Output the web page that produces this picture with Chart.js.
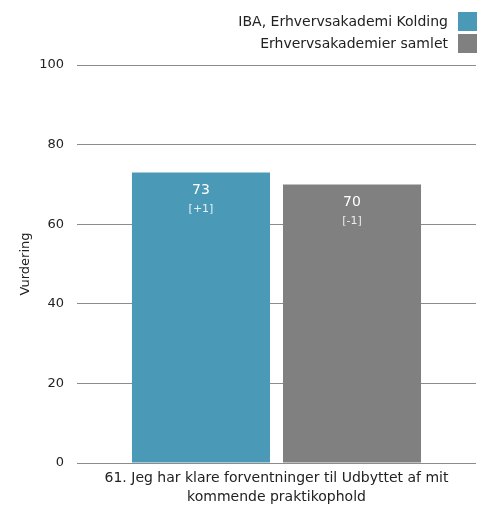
<!DOCTYPE html>
<html>
<head>
    <title>Vurdering</title>
    <script src="https://cdn.jsdelivr.net/npm/chart.js"></script>
    <style>
        body { margin: 0; background: #fff; }
    </style>
</head>
<body>
    <canvas id="barChart" width="491" height="506"></canvas>

    <script>
        const categories = [['61. Jeg har klare forventninger til Udbyttet af mit', 'kommende praktikophold']];
        const seriesNames = ['IBA, Erhvervsakademi Kolding', 'Erhvervsakademier samlet'];
        const seriesColors = ['#4a9ab7', '#808080'];
        const ibaValues = [73];
        const allValues = [70];
        const ibaChange = ['[+1]'];
        const allChange = ['[-1]'];
        const yTicks = [0, 20, 40, 60, 80, 100];

        const fontFamily = '"DejaVu Sans", Verdana, sans-serif';

        // legend with the colour box on the right, drawn top-right
        const rightLegend = {
            id: 'rightLegend',
            afterDraw(chart) {
                const ctx = chart.ctx;
                ctx.save();
                ctx.font = '14px ' + fontFamily;
                ctx.textAlign = 'right';
                ctx.textBaseline = 'middle';
                chart.data.datasets.forEach((ds, i) => {
                    const y = 12 + i * 22;
                    ctx.fillStyle = ds.backgroundColor;
                    ctx.fillRect(458, y, 19, 19);
                    ctx.fillStyle = '#222';
                    ctx.fillText(ds.label, 448, y + 10);
                });
                ctx.restore();
            }
        };

        // value + change label inside the top of each bar
        const barLabels = {
            id: 'barLabels',
            afterDatasetsDraw(chart) {
                const ctx = chart.ctx;
                ctx.save();
                ctx.textAlign = 'center';
                ctx.textBaseline = 'middle';
                chart.data.datasets.forEach((ds, i) => {
                    chart.getDatasetMeta(i).data.forEach((bar, j) => {
                        ctx.fillStyle = '#fff';
                        ctx.font = '14px ' + fontFamily;
                        ctx.fillText(ds.data[j], bar.x, bar.y + 18);
                        ctx.fillStyle = 'rgba(255,255,255,0.85)';
                        ctx.font = '11px ' + fontFamily;
                        ctx.fillText(ds.change[j], bar.x, bar.y + 37);
                    });
                });
                ctx.restore();
            }
        };

        new Chart(document.getElementById('barChart'), {
            type: 'bar',
            data: {
                labels: categories,
                datasets: [
                    {
                        label: seriesNames[0],
                        data: ibaValues,
                        change: ibaChange,
                        backgroundColor: seriesColors[0]
                    },
                    {
                        label: seriesNames[1],
                        data: allValues,
                        change: allChange,
                        backgroundColor: seriesColors[1]
                    }
                ]
            },
            options: {
                responsive: false,
                animation: false,
                layout: { padding: { top: 65, right: 15, left: 0, bottom: 0 } },
                categoryPercentage: 0.757,
                barPercentage: 0.914,
                plugins: {
                    legend: { display: false },
                    tooltip: { enabled: false }
                },
                scales: {
                    x: {
                        grid: { display: false, drawTicks: false },
                        border: { display: false },
                        ticks: {
                            color: '#222',
                            font: { family: fontFamily, size: 14, lineHeight: '19px' },
                            padding: 6,
                            maxRotation: 0
                        },
                        afterFit(scale) { scale.height = 43; }
                    },
                    y: {
                        min: 0,
                        max: 100,
                        afterBuildTicks(scale) {
                            scale.ticks = yTicks.map(v => ({ value: v }));
                        },
                        grid: {
                            color: '#8c8c8c',
                            drawTicks: false
                        },
                        border: { display: false },
                        ticks: {
                            color: '#222',
                            font: { family: fontFamily, size: 13 },
                            padding: 13
                        },
                        title: {
                            display: true,
                            text: 'Vurdering',
                            color: '#222',
                            font: { family: fontFamily, size: 13 },
                            padding: { top: 18, bottom: 0 }
                        },
                        afterFit(scale) { scale.width = 77; }
                    }
                }
            },
            plugins: [rightLegend, barLabels]
        });
    </script>
</body>
</html>
